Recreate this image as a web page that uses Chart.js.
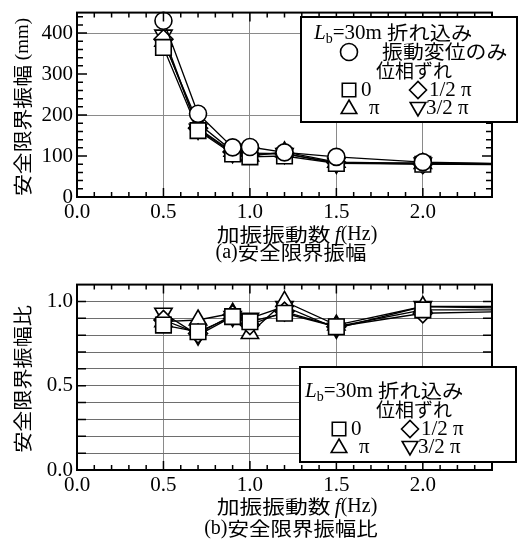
<!DOCTYPE html>
<html>
<head>
<meta charset="utf-8">
<script src="https://cdn.jsdelivr.net/npm/chart.js@4.4.1/dist/chart.umd.min.js"></script>
<style>
  html, body { margin: 0; padding: 0; background: #fff; }
  #wrap { position: relative; width: 518px; height: 545px; }
  canvas { position: absolute; left: 0; }
  #ca { top: 0; }
  #cb { top: 272px; }
</style>
</head>
<body>
<div id="wrap">
  <canvas id="ca" width="518" height="272"></canvas>
  <canvas id="cb" width="518" height="273"></canvas>
</div>
<script>
/* ===== 安全限界振幅 / 振幅比 ===== */
const FREQ = [0.5, 0.7, 0.9, 1.0, 1.2, 1.5, 2.0, 2.5];

// (a) 安全限界振幅 (mm)
const AMP_DISP  = [430, 203, 121, 122, 109, 98, 85, 81];
const AMP_0     = [365, 162, 105,  98, 100, 82, 80, 79];
const AMP_HALF  = [385, 168, 110, 104, 106, 84, 80, 80];
const AMP_PI    = [380, 180, 112, 100, 110, 85, 82, 80];
const AMP_3HALF = [395, 165, 108, 107, 106, 82, 83, 81];

// (b) 安全限界振幅比
const RATIO_0     = [0.86, 0.82, 0.91, 0.88, 0.93, 0.85, 0.95, 0.95];
const RATIO_HALF  = [0.89, 0.81, 0.92, 0.86, 0.94, 0.85, 0.93, 0.94];
const RATIO_PI    = [0.88, 0.89, 0.93, 0.81, 1.00, 0.86, 0.97, 0.96];
const RATIO_3HALF = [0.93, 0.80, 0.91, 0.90, 0.97, 0.84, 0.97, 0.97];

const X_TICKS  = [0, 0.5, 1.0, 1.5, 2.0];
const X_LABELS = ['0.0', '0.5', '1.0', '1.5', '2.0'];
const YA_TICKS  = [0, 100, 200, 300, 400];
const YA_LABELS = ['0', '100', '200', '300', '400'];
const YA_GRID   = [200, 400];
const YB_TICKS  = [0, 0.1, 0.2, 0.3, 0.4, 0.5, 0.6, 0.7, 0.8, 0.9, 1.0];
const YB_LABELS = ['0.0', '', '', '', '', '0.5', '', '', '', '', '1.0'];

const SERIF = "'Liberation Serif', 'Times New Roman', serif";
const CJK = "'Noto Sans CJK JP', sans-serif";

const MK = {
  disp:   { pointStyle: 'circle',   radius: 8.5, rotation: 0 },
  p0:     { pointStyle: 'rect',     radius: 11,  rotation: 0 },
  half:   { pointStyle: 'rectRot',  radius: 9.5, rotation: 0 },
  pi:     { pointStyle: 'triangle', radius: 10,  rotation: 0 },
  p3half: { pointStyle: 'triangle', radius: 10,  rotation: 180 },
};

const ds = (vals, m) => ({
  data: FREQ.map((x, i) => ({ x, y: vals[i] })),
  showLine: true, tension: 0,
  borderColor: '#000', borderWidth: 1.3,
  pointStyle: m.pointStyle, pointRadius: m.radius, pointRotation: m.rotation,
  pointBackgroundColor: '#fff', pointBorderColor: '#000', pointBorderWidth: 1.6,
  clip: { left: 0, right: 0, top: 12, bottom: 0 },
});

// mixed-font text run: parts = [text, font, dy, stretchX]
function runs(ctx, parts, x, y, align) {
  let w = 0;
  parts.forEach(p => { ctx.font = p[1]; w += ctx.measureText(p[0]).width * (p[3] || 1); });
  let cx = align === 'center' ? x - w / 2 : x;
  ctx.textAlign = 'left';
  parts.forEach(p => {
    const sx = p[3] || 1;
    ctx.font = p[1];
    ctx.save(); ctx.translate(cx, y + (p[2] || 0)); ctx.scale(sx, 1);
    ctx.fillText(p[0], 0, 0);
    ctx.restore();
    cx += ctx.measureText(p[0]).width * sx;
  });
}

function marker(ctx, m, x, y, r) {
  ctx.save();
  ctx.fillStyle = '#fff'; ctx.strokeStyle = '#000'; ctx.lineWidth = 1.6;
  Chart.helpers.drawPoint(ctx, { pointStyle: m.pointStyle, radius: r || m.radius, rotation: m.rotation, borderWidth: 1.6 }, x, y);
  ctx.restore();
}

const J = (t, sx) => [t, '19px ' + CJK, 0, sx];
const S = (t, size) => [t, (size || 21) + 'px ' + SERIF, 0, 1];

/* ---------- 枠・内向き目盛・タイトル・凡例 ---------- */
function decor(cfg) {
  return {
    id: 'decor',
    afterDraw(chart) {
      const { ctx, chartArea: a, scales: { x, y } } = chart;
      ctx.save();
      ctx.strokeStyle = '#000'; ctx.lineWidth = 1.5;
      ctx.beginPath();
      for (let i = 1; i < 24; i++) {
        const px = x.getPixelForValue(i / 10), len = i % 5 === 0 ? 9 : 5;
        ctx.moveTo(px, a.bottom); ctx.lineTo(px, a.bottom - len);
        ctx.moveTo(px, a.top); ctx.lineTo(px, a.top + len);
      }
      cfg.yTicks.forEach(([v, len]) => {
        const py = y.getPixelForValue(v);
        ctx.moveTo(a.left, py); ctx.lineTo(a.left + len, py);
        ctx.moveTo(a.right, py); ctx.lineTo(a.right - len, py);
      });
      ctx.stroke();
      ctx.lineWidth = 2;
      ctx.strokeRect(a.left, a.top, a.right - a.left, a.bottom - a.top);

      ctx.fillStyle = '#000'; ctx.textBaseline = 'middle';
      // y title (rotated)
      ctx.save();
      ctx.translate(23, cfg.yTitleY); ctx.rotate(-Math.PI / 2);
      runs(ctx, cfg.yTitle, 0, 0, 'center');
      ctx.restore();
      // x title + caption
      runs(ctx, [J('加振振動数', 1.2), ['\u2009f', 'italic 21px ' + SERIF, 0, 1], S('(Hz)', 20)], 297, cfg.xTitleY, 'center');
      runs(ctx, cfg.caption, 291, cfg.captionY, 'center');

      // legend box
      const L = cfg.legend;
      ctx.fillStyle = '#fff'; ctx.fillRect(L.x, L.y, L.w, L.h);
      ctx.lineWidth = 2; ctx.strokeRect(L.x, L.y, L.w, L.h);
      ctx.fillStyle = '#000';
      runs(ctx, [['L', 'italic 21px ' + SERIF], ['b', '14px ' + SERIF, 6], S('=30m '), J('折れ込み', 1.12)], L.tx, L.rows[0], 'left');
      let r = 1;
      if (L.disp) {
        marker(ctx, MK.disp, L.m1, L.rows[r], 8.5);
        runs(ctx, [J('振動変位のみ', 1.1)], L.dispTx, L.rows[r], 'left');
        r++;
      }
      runs(ctx, [J('位相ずれ', 1.0)], L.phaseTx, L.rows[r], 'left'); r++;
      ctx.font = '21px ' + SERIF; ctx.textAlign = 'left';
      marker(ctx, MK.p0, L.m1, L.rows[r], 9.5);
      ctx.fillText('0', L.m1 + 12, L.rows[r]);
      marker(ctx, MK.half, L.m2, L.rows[r], 8.5);
      ctx.fillText('1/2 π', L.m2 + 11, L.rows[r]);
      r++;
      marker(ctx, MK.pi, L.m1, L.rows[r] + 1, 9);
      ctx.fillText('π', L.m1 + 20, L.rows[r]);
      marker(ctx, MK.p3half, L.m2, L.rows[r] - 1, 9);
      ctx.fillText('3/2 π', L.m2 + 8, L.rows[r]);
      ctx.restore();
    },
  };
}

function fixedArea(yWidth, xHeight) {
  return {
    y: s => { s.width = yWidth; s.paddingTop = 0; s.paddingBottom = 0; },
    x: s => { s.height = xHeight; s.paddingLeft = 0; s.paddingRight = 0; },
  };
}

function makeChart(id, datasets, yOpt, deco) {
  const fit = fixedArea(77, 75);
  return new Chart(document.getElementById(id), {
    type: 'scatter',
    data: { datasets },
    options: {
      responsive: false, animation: false,
      layout: { padding: { top: 8, right: 26, left: 0, bottom: 0 } },
      plugins: { legend: { display: false }, tooltip: { enabled: false } },
      scales: {
        x: {
          type: 'linear', min: 0, max: 2.4,
          afterBuildTicks: s => { s.ticks = X_TICKS.map(v => ({ value: v })); },
          afterFit: fit.x,
          border: { display: false },
          grid: { drawTicks: false, lineWidth: 1, color: c => c.tick && c.tick.value > 0 ? '#8a8a8a' : 'rgba(0,0,0,0)' },
          ticks: { padding: 3, color: '#000', font: { family: SERIF, size: 21 }, maxRotation: 0, callback: (v, i) => X_LABELS[i] },
        },
        y: Object.assign({
          type: 'linear', afterFit: fit.y,
          border: { display: false },
        }, yOpt),
      },
    },
    plugins: [decor(deco)],
  });
}

const yTicksA = [];
for (let v = 20; v < 450; v += 20) yTicksA.push([v, v % 100 === 0 ? 10 : 6]);
const yTicksB = [];
for (let i = 1; i < 11; i++) yTicksB.push([i / 10, 9]);

makeChart('ca', [
  ds(AMP_DISP, MK.disp), ds(AMP_0, MK.p0), ds(AMP_HALF, MK.half), ds(AMP_PI, MK.pi), ds(AMP_3HALF, MK.p3half),
], {
  min: 0, max: 450,
  afterBuildTicks: s => { s.ticks = YA_TICKS.map(v => ({ value: v })); },
  grid: { drawTicks: false, lineWidth: 1, color: c => c.tick && YA_GRID.includes(c.tick.value) ? '#8a8a8a' : 'rgba(0,0,0,0)' },
  ticks: { padding: 4, color: '#000', font: { family: SERIF, size: 21 }, callback: (v, i) => YA_LABELS[i] },
}, {
  yTicks: yTicksA, yTitle: [J('安全限界振幅', 1.15), S(' (mm)', 19)], yTitleY: 107,
  xTitleY: 235, caption: [S('(a)', 20), J('安全限界振幅', 1.13)], captionY: 253,
  legend: { x: 301, y: 17, w: 216, h: 105, tx: 314, rows: [33, 52, 71, 90, 108], disp: true,
            m1: 349, m2: 418, dispTx: 382, phaseTx: 376 },
});

makeChart('cb', [
  ds(RATIO_0, MK.p0), ds(RATIO_HALF, MK.half), ds(RATIO_PI, MK.pi), ds(RATIO_3HALF, MK.p3half),
], {
  min: 0, max: 1.1,
  afterBuildTicks: s => { s.ticks = YB_TICKS.map(v => ({ value: v })); },
  grid: { drawTicks: false, lineWidth: 1, color: c => c.tick && c.tick.value > 0 ? '#6e6e6e' : 'rgba(0,0,0,0)' },
  ticks: { padding: 4, color: '#000', font: { family: SERIF, size: 21 }, autoSkip: false, callback: (v, i) => YB_LABELS[i] },
}, {
  yTicks: yTicksB, yTitle: [J('安全限界振幅比', 1.11)], yTitleY: 107,
  xTitleY: 235, caption: [S('(b)', 20), J('安全限界振幅比', 1.13)], captionY: 257,
  legend: { x: 300, y: 95, w: 216, h: 95, tx: 305, rows: [119, 138, 157, 175], disp: false,
            m1: 339, m2: 410, dispTx: 0, phaseTx: 376 },
});
</script>
</body>
</html>
